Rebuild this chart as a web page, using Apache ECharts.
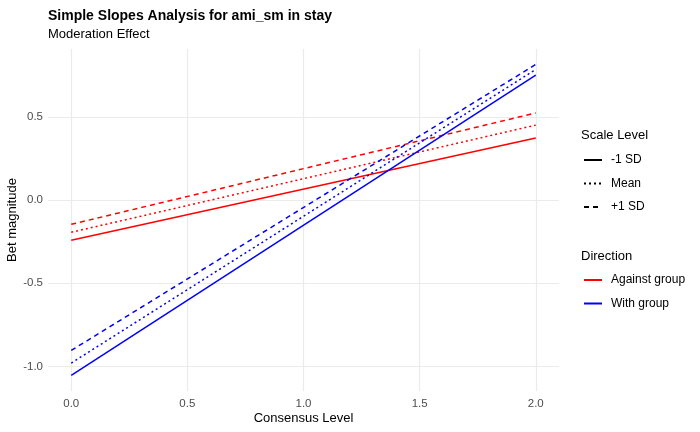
<!DOCTYPE html>
<html>
<head>
<meta charset="utf-8">
<script src="https://cdn.jsdelivr.net/npm/echarts@6/dist/echarts.min.js"></script>
<style>
  html, body { margin: 0; padding: 0; background: #fff; }
  #chart { width: 700px; height: 432px; }
</style>
</head>
<body>
<div id="chart"></div>
<script>
// consensus level at the two ends of each line
var xEnds = [0, 2];
var xTicks = [0, 0.5, 1, 1.5, 2];
var yTicks = [-1, -0.5, 0, 0.5];

var scaleLevels = ['-1 SD', 'Mean', '+1 SD'];
var directions = ['Against group', 'With group'];

// predicted bet magnitude at x = 0 and x = 2
var againstVals = [
  [-0.241, 0.375],   // -1 SD
  [-0.193, 0.452],   // Mean
  [-0.145, 0.525]    // +1 SD
];
var withVals = [
  [-1.054, 0.753],
  [-0.980, 0.787],
  [-0.904, 0.817]
];

var dirColors = { 'Against group': '#ff0000', 'With group': '#0000ff' };
var dashTypes = ['solid', [2, 3], [5, 4]];
var FONT = '"Liberation Sans", Arial, Helvetica, sans-serif';

var myChart = echarts.init(document.getElementById('chart'));

function toPoints(vals) {
  return xEnds.map(function (x, i) { return [x, vals[i]]; });
}

var series = [];
[['Against group', againstVals], ['With group', withVals]].forEach(function (d) {
  d[1].forEach(function (vals, k) {
    series.push({
      type: 'line',
      name: d[0] + ' ' + scaleLevels[k],
      data: toPoints(vals),
      symbol: 'none',
      silent: true,
      lineStyle: { color: dirColors[d[0]], width: 1.5, type: dashTypes[k] },
      itemStyle: { color: dirColors[d[0]] },
      z: 3
    });
  });
});

// legend-only series (no data)
scaleLevels.forEach(function (s, k) {
  series.push({
    type: 'line', name: s, data: [], symbol: 'none',
    lineStyle: { color: '#000', width: 1.5, type: dashTypes[k] },
    itemStyle: { color: '#000' }
  });
});
directions.forEach(function (s) {
  series.push({
    type: 'line', name: s, data: [], symbol: 'none',
    lineStyle: { color: dirColors[s], width: 1.5, type: 'solid' },
    itemStyle: { color: dirColors[s] }
  });
});

var legendBase = {
  orient: 'vertical',
  itemWidth: 18, itemHeight: 10, itemGap: 11.5,
  selectedMode: false,
  itemStyle: { opacity: 0 },
  textStyle: { fontFamily: FONT, fontSize: 12, color: '#000', padding: [0, 0, 0, 4] }
};

var option = {
  animation: false,
  backgroundColor: '#fff',
  title: [
    {
      text: 'Simple Slopes Analysis for ami_sm in stay',
      subtext: 'Moderation Effect',
      left: 43, top: 4,
      itemGap: 5,
      textStyle: { fontFamily: FONT, fontSize: 14, fontWeight: 'bold', color: '#000' },
      subtextStyle: { fontFamily: FONT, fontSize: 13, color: '#000' }
    },
    { text: 'Scale Level', left: 576, top: 124,
      textStyle: { fontFamily: FONT, fontSize: 13, fontWeight: 'normal', color: '#000' } },
    { text: 'Direction', left: 576, top: 245,
      textStyle: { fontFamily: FONT, fontSize: 13, fontWeight: 'normal', color: '#000' } }
  ],
  legend: [
    Object.assign({ data: scaleLevels, left: 578, top: 149 }, legendBase),
    Object.assign({ data: directions, left: 578, top: 269 }, legendBase)
  ],
  grid: { left: 48, right: 141, top: 49, bottom: 41, containLabel: false, outerBoundsMode: 'none' },
  xAxis: {
    type: 'value', min: -0.1, max: 2.1,
    name: 'Consensus Level', nameLocation: 'middle', nameGap: 21,
    nameMoveOverlap: false,
    nameTextStyle: { fontFamily: FONT, fontSize: 13, color: '#000' },
    axisLine: { show: false },
    axisTick: { show: false, customValues: xTicks },
    axisLabel: {
      customValues: xTicks, margin: 7,
      fontFamily: FONT, fontSize: 11.5, color: '#4d4d4d',
      formatter: function (v) { return v.toFixed(1); }
    },
    splitLine: { show: true, lineStyle: { color: '#ebebeb', width: 1.2 } }
  },
  yAxis: {
    type: 'value', min: -1.148, max: 0.91,
    name: 'Bet magnitude', nameLocation: 'middle', nameGap: 29,
    nameMoveOverlap: false,
    nameTextStyle: { fontFamily: FONT, fontSize: 13, color: '#000' },
    axisLine: { show: false },
    axisTick: { show: false, customValues: yTicks },
    axisLabel: {
      customValues: yTicks, margin: 5,
      fontFamily: FONT, fontSize: 11.5, color: '#4d4d4d',
      formatter: function (v) { return v.toFixed(1); }
    },
    splitLine: { show: true, lineStyle: { color: '#ebebeb', width: 1.2 } }
  },
  series: series
};

myChart.setOption(option);
</script>
</body>
</html>
